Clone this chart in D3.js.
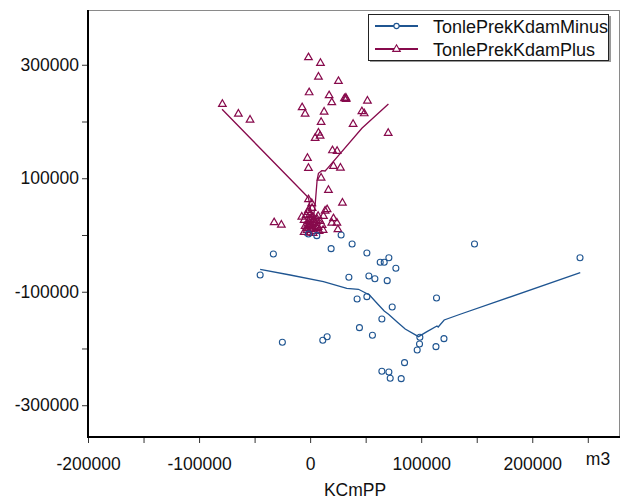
<!DOCTYPE html>
<html><head><meta charset="utf-8">
<script src="https://cdn.jsdelivr.net/npm/d3@7"></script>
<style>body{margin:0;background:#fff}svg{display:block}text{font-family:"Liberation Sans",Arial,sans-serif;fill:#111}</style>
</head><body><svg id="c" width="621" height="499"></svg>
<script>
const seriesNames = ["TonlePrekKdamMinus", "TonlePrekKdamPlus"];
const xTitle = "KCmPP", xUnit = "m3";
const xTicks = [-200000, -100000, 0, 100000, 200000];
const xMinor = [-150000, -50000, 50000, 150000, 250000];
const yTicks = [-300000, -100000, 100000, 300000];
const yMinor = [-200000, 0, 200000];

const minusX = [-33100,-45000,-1500,6000,27900,37800,18900,51100,63100,66700,70900,77200,34900,52900,58300,69400,42300,51100,73900,113800,64600,44400,56100,-25000,11400,15300,98800,98500,96400,113300,120500,85000,64600,70900,72100,82000,148000,243000];
const minusY = [-33500,-70500,1800,-1200,0,-15900,-24100,-31700,-48100,-48100,-40000,-58700,-74500,-72200,-77000,-80500,-112800,-108700,-126900,-111000,-148000,-163300,-176700,-189100,-185500,-179200,-180300,-192100,-202600,-196800,-182700,-225000,-240200,-241400,-252500,-253200,-15900,-40000];

const plusX = [-1500,9300,7500,25500,-900,17100,30900,32200,32400,51600,19500,-79000,-7200,-4500,12600,46600,48700,-64600,-54100,9900,38700,70300,7500,9000,4500,20100,24300,-2400,-1500,21000,27300,9900,16500,29100,-1500,1500,-1500,13500,15300,-7500,-32400,-25900,21000,24100,19500,25000,12000,-3600,0,2700,7200,-5400,-1800,1800,5400,9000,-4500,-900,3600,7200,10800,-2700,900,4500,8100,-5400,2700,11700,0,-1800,1800,-2000,1000,4000,6500,-3000,500,3000,6000,-1000];
const plusY = [313100,303100,278900,271300,251400,246200,240900,241900,239600,236600,233800,230800,225000,213700,217300,218000,214400,213700,203200,199100,195600,179700,180300,175000,170900,149200,148000,135700,118100,121600,118600,101000,79300,56900,62900,55900,44100,42800,45300,32200,22400,18100,29400,21700,21700,10000,33500,35200,37000,31700,33500,26400,24700,22900,26400,24700,15900,17600,15900,14100,17600,8800,10600,7000,7000,5300,3500,8800,28200,40500,47600,20000,19000,21000,12000,12500,13500,27000,29000,4000];

const minusFitX = [-45000,-18000,12000,33000,43500,53500,60200,66700,70600,78100,85600,97600,105200,114200,115300,120700,135100,243200];
const minusFitY = [-60400,-70500,-82300,-93900,-95700,-105700,-120300,-133900,-139700,-152800,-165700,-179200,-170400,-160400,-162200,-149800,-139700,-66400];
const plusFitX = [-79300,-3000,-1500,900,2700,4500,6300,7500,10500,13500,15600,46600,70500];
const plusFitY = [221500,68700,65200,40500,26400,52900,96900,108700,113300,112800,117500,188000,230800];

const colors = ["#1f5591", "#870a4c"];

const svg = d3.select("#c");
const L = 88, R = 620, T = 10, B = 437;
const x = d3.scaleLinear().domain([-200000, 279000]).range([L, R]);
const y = d3.scaleLinear().domain([-356000, 396500]).range([B, T]);
const FS = 17.5, LFS = 18;
const fmt = d => String(d);

svg.append("line").attr("x1", L).attr("x2", R).attr("y1", T+0.5).attr("y2", T+0.5).attr("stroke", "#8a8a8a").attr("stroke-width", 1);
svg.append("line").attr("x1", R-0.5).attr("x2", R-0.5).attr("y1", T).attr("y2", B).attr("stroke", "#8a8a8a").attr("stroke-width", 1);

const xAxis = svg.append("g").attr("transform", `translate(0,${B})`)
  .call(d3.axisBottom(x).tickValues(xTicks).tickFormat(fmt).tickSize(6).tickPadding(15));
const xMin = svg.append("g").attr("transform", `translate(0,${B})`)
  .call(d3.axisBottom(x).tickValues(xMinor).tickFormat("").tickSize(6));
const yAxis = svg.append("g").attr("transform", `translate(${L},0)`)
  .call(d3.axisLeft(y).tickValues(yTicks).tickFormat(fmt).tickSize(6).tickPadding(3));
const yMin = svg.append("g").attr("transform", `translate(${L},0)`)
  .call(d3.axisLeft(y).tickValues(yMinor).tickFormat("").tickSize(6));
[xAxis, xMin, yAxis, yMin].forEach(g => {
  g.select(".domain").remove();
  g.selectAll(".tick line").attr("stroke", "#333");
  g.selectAll("text").style("font-size", FS + "px").attr("fill", "#111").attr("font-family", "Liberation Sans, Arial, sans-serif");
});
svg.append("line").attr("x1", L).attr("x2", L).attr("y1", T).attr("y2", B+1).attr("stroke", "#000").attr("stroke-width", 2);
svg.append("line").attr("x1", L-1).attr("x2", R).attr("y1", B).attr("y2", B).attr("stroke", "#000").attr("stroke-width", 2);

svg.append("text").attr("x", 355).attr("y", 496).attr("text-anchor", "middle").style("font-size", FS + "px").text(xTitle);
svg.append("text").attr("x", 598).attr("y", 465).attr("text-anchor", "middle").style("font-size", FS + "px").text(xUnit);

const line = d3.line().x(d => x(d[0])).y(d => y(d[1]));
const plot = svg.append("g");

const triPath = "M0,-4.2L3.8,2.4L-3.8,2.4Z";
plot.selectAll("path.tri").data(d3.zip(plusX, plusY)).join("path").attr("class", "tri")
  .attr("d", triPath).attr("transform", d => `translate(${x(d[0])},${y(d[1])})`)
  .attr("fill", "none").attr("stroke", colors[1]).attr("stroke-width", 1.2);
plot.selectAll("circle.pt").data(d3.zip(minusX, minusY)).join("circle").attr("class", "pt")
  .attr("cx", d => x(d[0])).attr("cy", d => y(d[1])).attr("r", 3)
  .attr("fill", "none").attr("stroke", colors[0]).attr("stroke-width", 1.1);

plot.append("path").datum(d3.zip(minusFitX, minusFitY)).attr("d", line).attr("fill", "none").attr("stroke", colors[0]).attr("stroke-width", 1.3);
plot.append("path").datum(d3.zip(plusFitX, plusFitY)).attr("d", line).attr("fill", "none").attr("stroke", colors[1]).attr("stroke-width", 1.3);

const lg = svg.append("g");
lg.append("rect").attr("x", 370).attr("y", 16).attr("width", 241).attr("height", 46).attr("fill", "#999");
lg.append("rect").attr("x", 368.5).attr("y", 14.5).attr("width", 240).attr("height", 46).attr("fill", "#fff").attr("stroke", "#222").attr("stroke-width", 1);
seriesNames.forEach((n, i) => {
  const yy = 26 + i * 23;
  lg.append("line").attr("x1", 375).attr("x2", 418).attr("y1", yy).attr("y2", yy).attr("stroke", colors[i]).attr("stroke-width", 2);
  if (i === 0) lg.append("circle").attr("cx", 396.5).attr("cy", yy).attr("r", 2.6).attr("fill", "#fff").attr("stroke", colors[i]).attr("stroke-width", 1.1);
  else lg.append("path").attr("d", triPath).attr("transform", `translate(396.5,${yy})`).attr("fill", "#fff").attr("stroke", colors[i]).attr("stroke-width", 1.1);
  lg.append("text").attr("x", 433).attr("y", yy + 6.5).style("font-size", LFS + "px").text(n);
});
</script></body></html>
